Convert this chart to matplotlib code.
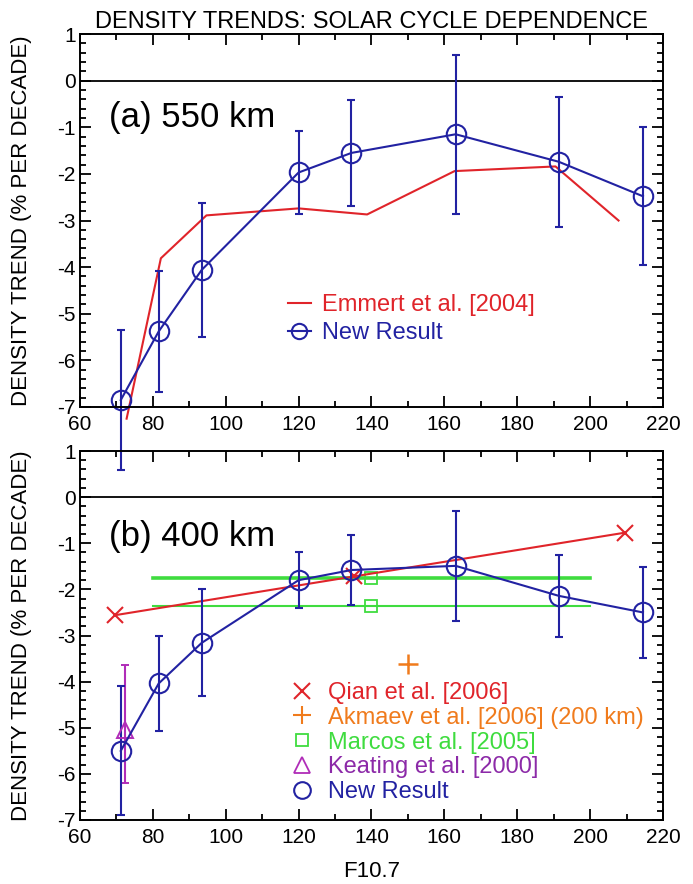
import matplotlib
matplotlib.use("Agg")
import matplotlib.pyplot as plt
from matplotlib.ticker import MultipleLocator
from matplotlib.lines import Line2D

plt.rcParams['font.family'] = ['Liberation Sans', 'DejaVu Sans']
plt.rcParams['axes.unicode_minus'] = False

# (a) 550 km -- new result with 1-sigma error bars
f107_a = [71.2, 81.6, 93.4, 120.0, 134.5, 163.1, 191.4, 214.5]
trend_a = [-6.85, -5.38, -4.06, -1.97, -1.55, -1.15, -1.74, -2.48]
err_a = [1.5, 1.3, 1.43, 0.88, 1.13, 1.7, 1.4, 1.48]

# Emmert et al. [2004]
emmert_f107 = [72.8, 82.2, 94.7, 120.0, 138.8, 162.8, 190.5, 207.8]
emmert_trend = [-7.25, -3.81, -2.89, -2.74, -2.87, -1.94, -1.84, -3.0]

# (b) 400 km -- new result
f107_b = [71.2, 81.6, 93.4, 120.0, 134.5, 163.1, 191.4, 214.5]
trend_b = [-5.5, -4.04, -3.16, -1.8, -1.58, -1.49, -2.14, -2.5]
err_b = [1.4, 1.02, 1.16, 0.61, 0.75, 1.19, 0.89, 0.98]

# Qian et al. [2006]
qian_f107 = [69.6, 135.1, 209.6]
qian_trend = [-2.56, -1.72, -0.77]

# Akmaev et al. [2006] (200 km)
akmaev_f107 = [150.0]
akmaev_trend = [-3.61]

# Marcos et al. [2005]: two values spanning F10.7 80-200
marcos_trend = [-1.75, -2.35]
marcos_range = [80, 200]
marcos_f107 = 140.0

# Keating et al. [2000]
keating_f107 = [72.4]
keating_trend = [-5.05]
keating_err = [[1.15], [1.4]]

BLUE = '#2222a2'
RED = '#e0242a'
ORANGE = '#f07b1c'
GREEN = '#3fdc3f'
PURPLE = '#b02cb8'
PURPLE_TXT = '#8c2aa8'


def style_axes(ax):
    ax.set_xlim(60, 220)
    ax.set_ylim(-7, 1)
    ax.xaxis.set_major_locator(MultipleLocator(20))
    ax.xaxis.set_minor_locator(MultipleLocator(10))
    ax.yaxis.set_major_locator(MultipleLocator(1))
    ax.yaxis.set_minor_locator(MultipleLocator(0.2))
    ax.tick_params(which='both', direction='in', top=True, right=True, width=1.3)
    ax.tick_params(which='major', length=8)
    ax.tick_params(which='minor', length=4.5)
    ax.tick_params(axis='x', labelsize=15, pad=6)
    ax.tick_params(axis='y', labelsize=15, pad=3)
    for s in ax.spines.values():
        s.set_linewidth(1.4)
    ax.axhline(0, color='black', lw=1.3)
    ax.set_ylabel('DENSITY TREND (% PER DECADE)', fontsize=16)
    ax.yaxis.set_label_coords(-0.082, 0.5)


fig = plt.figure(figsize=(6.93, 8.84), dpi=100)
ax1 = fig.add_axes([0.1154, 0.5396, 0.8413, 0.4219])
ax2 = fig.add_axes([0.1154, 0.0724, 0.8413, 0.4174])
ax2.set_facecolor('none')

# ---- panel (a)
style_axes(ax1)
ax1.plot(emmert_f107, emmert_trend, color=RED, lw=1.5, clip_on=False)
ax1.errorbar(f107_a, trend_a, yerr=err_a, color=BLUE, lw=1.5, elinewidth=1.5,
             capsize=3, marker='o', ms=14, mfc='none', mew=1.5, clip_on=False)
ax1.text(68, -0.8, '(a) 550 km', fontsize=25, va='center', ha='left')
ax1.set_title('DENSITY TRENDS: SOLAR CYCLE DEPENDENCE', fontsize=17, pad=4)

h_a = [Line2D([], [], color=RED, lw=1.5),
       Line2D([], [], color=BLUE, lw=1.5, marker='o', ms=11, mfc='none', mew=1.5)]
ax1.legend(h_a, ['Emmert et al. [2004]', 'New Result'], loc='upper left',
           bbox_to_anchor=(0.34, 0.328), frameon=False, fontsize=17,
           handlelength=1.0, handletextpad=0.45, labelspacing=0.24,
           labelcolor=[RED, BLUE], borderaxespad=0)

# ---- panel (b)
style_axes(ax2)
for y, w in zip(marcos_trend, [2.6, 1.5]):
    ax2.plot(marcos_range, [y, y], color=GREEN, lw=w)
ax2.plot([marcos_f107] * 2, marcos_trend, ls='none', marker='s', ms=8,
         mfc='none', mec=GREEN, mew=1.3)
ax2.plot(qian_f107, qian_trend, color=RED, lw=1.5, marker='x', ms=12, mew=1.5)
ax2.plot(akmaev_f107, akmaev_trend, ls='none', marker='+', ms=14, mew=1.8, color=ORANGE)
ax2.errorbar(keating_f107, keating_trend, yerr=keating_err, color=PURPLE, lw=1.5,
             capsize=3, marker='^', ms=12, mfc='none', mew=1.4)
ax2.errorbar(f107_b, trend_b, yerr=err_b, color=BLUE, lw=1.5, elinewidth=1.5,
             capsize=3, marker='o', ms=14, mfc='none', mew=1.5)
ax2.text(68, -0.85, '(b) 400 km', fontsize=25, va='center', ha='left')
ax2.set_xlabel('F10.7', fontsize=16, labelpad=10)

h_b = [Line2D([], [], ls='none', marker='x', ms=11, mew=1.5, color=RED),
       Line2D([], [], ls='none', marker='+', ms=13, mew=1.5, color=ORANGE),
       Line2D([], [], ls='none', marker='s', ms=8, mfc='none', mew=1.3, color=GREEN),
       Line2D([], [], ls='none', marker='^', ms=11, mfc='none', mew=1.3, color=PURPLE),
       Line2D([], [], ls='none', marker='o', ms=12, mfc='none', mew=1.5, color=BLUE)]
labels_b = ['Qian et al. [2006]', 'Akmaev et al. [2006] (200 km)',
            'Marcos et al. [2005]', 'Keating et al. [2000]', 'New Result']
ax2.legend(h_b, labels_b, loc='upper left', bbox_to_anchor=(0.345, 0.40),
           frameon=False, fontsize=17, handlelength=1.0, handletextpad=0.6,
           labelspacing=0.12, borderaxespad=0,
           labelcolor=[RED, ORANGE, GREEN, PURPLE_TXT, BLUE])

fig.savefig('out.png', dpi=100)
